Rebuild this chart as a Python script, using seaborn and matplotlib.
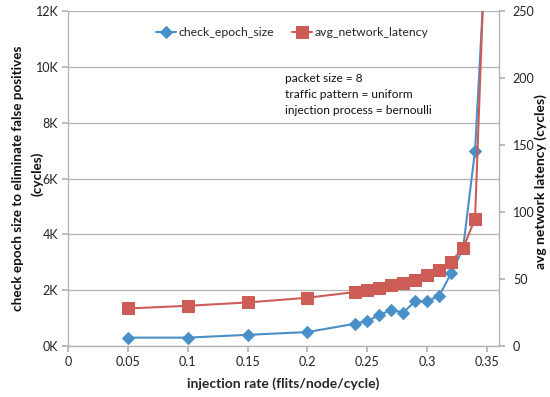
import numpy as np
import pandas as pd
import matplotlib
matplotlib.use("Agg")
import matplotlib.pyplot as plt
import seaborn as sns
from matplotlib.ticker import FuncFormatter, MultipleLocator

sns.set_theme(style="white")
plt.rcParams['font.family'] = ['Lato', 'DejaVu Sans']

# data
rate_epoch = [0.05, 0.10, 0.15, 0.20, 0.24, 0.25, 0.26, 0.27, 0.28, 0.29, 0.30, 0.31, 0.32, 0.33, 0.34, 0.35]
check_epoch_size = [300, 300, 400, 500, 800, 900, 1100, 1300, 1200, 1600, 1600, 1800, 2600, 3500, 7000, 15000]
rate_lat = [0.05, 0.10, 0.15, 0.20, 0.24, 0.25, 0.26, 0.27, 0.28, 0.29, 0.30, 0.31, 0.32, 0.33, 0.34, 0.35]
avg_network_latency = [28, 30, 32.5, 36, 40.3, 41.5, 43, 45.3, 47.3, 49.3, 52.7, 56.7, 63, 73, 95, 340]
annotation = ["packet size = 8", "traffic pattern = uniform", "injection process = bernoulli"]
left_label_lines = ["check epoch size to eliminate false positives", "(cycles)"]

blue = '#4A90C8'
red = '#CD5C57'
grey = '#B3B3B3'

fig = plt.figure(figsize=(5.5, 3.97), dpi=100)
ax = fig.add_axes([68/550, 51/397, (499-68)/550, (346-11)/397])
ax2 = ax.twinx()

df1 = pd.DataFrame({'x': rate_epoch, 'y': check_epoch_size})
df2 = pd.DataFrame({'x': rate_lat, 'y': avg_network_latency})

sns.lineplot(data=df1, x='x', y='y', ax=ax, color=blue, marker='D', markersize=6,
             markeredgecolor=blue, linewidth=1.5, label='check_epoch_size', legend=False)
sns.lineplot(data=df2, x='x', y='y', ax=ax2, color=red, marker='s', markersize=8,
             markeredgecolor=red, linewidth=1.5, label='avg_network_latency', legend=False)

ax.set_xlim(0, 0.36)
ax.set_ylim(0, 12000)
ax2.set_ylim(0, 250)
ax.xaxis.set_major_locator(MultipleLocator(0.05))
ax.yaxis.set_major_locator(MultipleLocator(2000))
ax2.yaxis.set_major_locator(MultipleLocator(50))
ax.yaxis.set_major_formatter(FuncFormatter(lambda v, p: f"{int(v/1000)}K"))
ax.xaxis.set_major_formatter(FuncFormatter(lambda v, p: "0" if v == 0 else f"{v:g}"))

ax.grid(axis='y', color=grey, linewidth=0.9)
ax.set_axisbelow(True)
for a in (ax, ax2):
    for s in a.spines.values():
        s.set_visible(False)
ax.spines['left'].set_visible(True)
ax.spines['bottom'].set_visible(True)
ax2.spines['right'].set_visible(True)
for s in (ax.spines['left'], ax.spines['bottom'], ax2.spines['right']):
    s.set_color(grey)
    s.set_linewidth(1.0)

ax.tick_params(axis='both', which='major', direction='out', length=4, color=grey,
               labelsize=9, labelcolor='#222222', left=True, bottom=True, pad=3)
ax2.tick_params(axis='y', direction='out', length=4, color=grey, labelsize=9,
                labelcolor='#222222', right=True, pad=6)

ax.set_xlabel('injection rate (flits/node/cycle)', fontsize=10, fontweight='bold', labelpad=7)
ax.set_ylabel('')
fig.text(18/550, 1 - 178/397, left_label_lines[0], rotation=90, ha='center', va='center',
         fontsize=9.7, fontweight='bold', color='#111111')
fig.text(37/550, 1 - 174/397, left_label_lines[1], rotation=90, ha='center', va='center',
         fontsize=9.7, fontweight='bold', color='#111111')
ax2.set_ylabel('avg network latency (cycles)', fontsize=10, fontweight='bold', color='#111111')
ax2.yaxis.set_label_coords(1.082, 0.49)

h1, l1 = ax.get_legend_handles_labels()
h2, l2 = ax2.get_legend_handles_labels()
ax.legend(h1 + h2, l1 + l2, loc='upper center', bbox_to_anchor=(0.52, 0.985), ncol=2,
          frameon=False, fontsize=8.8, handlelength=1.6, columnspacing=1.5, handletextpad=0.2)

for i, t in enumerate(annotation):
    ax.text((285-68)/431, (346-78)/335 - i*16.5/335, t, transform=ax.transAxes,
            fontsize=8.6, va='center', ha='left', color='#111111')

fig.savefig('out.png', dpi=100)
